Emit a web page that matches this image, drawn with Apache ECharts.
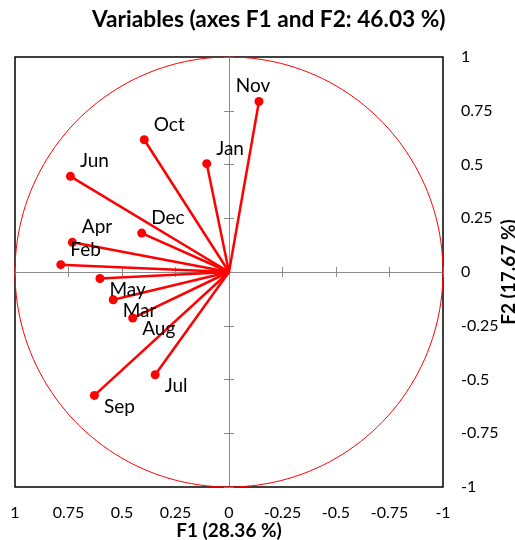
<!DOCTYPE html>
<html>
<head>
<meta charset="utf-8">
<script src="https://cdn.jsdelivr.net/npm/echarts@6/dist/echarts.min.js"></script>
<style>html,body{margin:0;padding:0;background:#fff}#c{width:515px;height:540px}</style>
</head>
<body>
<div id="c"></div>
<script>
const titleText = 'Variables (axes F1 and F2: 46.03 %)';
const xName = 'F1 (28.36 %)';
const yName = 'F2 (17.67 %)';
const categories = ['Jan','Feb','Mar','Apr','May','Jun','Jul','Aug','Sep','Oct','Nov','Dec'];
const f1 = [0.104, 0.786, 0.541, 0.732, 0.603, 0.741, 0.345, 0.450, 0.629, 0.396, -0.140, 0.408];
const f2 = [0.504, 0.034, -0.129, 0.138, -0.030, 0.445, -0.478, -0.214, -0.574, 0.615, 0.793, 0.181];
const axisMin = -1, axisMax = 1, axisStep = 0.25;

const FONT = 'Lato';
const chart = echarts.init(document.getElementById('c'), null, {renderer: 'canvas'});

// correlation circle (unit circle, geometric reference)
const circle = [];
for (let a = 0; a <= 360; a += 2) {
  const r = a * Math.PI / 180;
  circle.push([Math.cos(r), Math.sin(r)]);
}

const vectors = categories.map((c, i) => ({coords: [[0, 0], [f1[i], f2[i]]]}));
const points = categories.map((c, i) => {
  const up = f2[i] >= 0;
  let label = {position: 'right', offset: up ? [0, -15] : [0, 11]};
  if (c === 'Nov') label = {position: 'top', offset: [-6, 3]};
  return {name: c, value: [f1[i], f2[i]], label: label};
});

const baseX = {type: 'value', min: axisMin, max: axisMax, interval: axisStep, inverse: true, gridIndex: 0};
const baseY = {type: 'value', min: axisMin, max: axisMax, interval: axisStep, gridIndex: 0};
const crossAxisLine = {show: true, onZero: true, onZeroAxisIndex: 0, lineStyle: {color: '#8c8c8c', width: 1}};
const crossTick = (inside) => ({show: true, inside: inside, length: 5, lineStyle: {color: '#8c8c8c', width: 1}});

const option = {
  animation: false,
  backgroundColor: '#fff',
  title: {
    text: titleText,
    left: 92,
    top: 8,
    padding: 0,
    textStyle: {fontFamily: FONT, fontWeight: 'bold', fontSize: 22.7, color: '#000'}
  },
  grid: {left: 15, top: 57, width: 428, height: 430, outerBoundsMode: 'none', containLabel: false,
    show: true, borderColor: '#000', borderWidth: 1.5, backgroundColor: 'transparent'},
  xAxis: [
    Object.assign({}, baseX, {
      position: 'bottom',
      name: xName, nameLocation: 'middle', nameGap: 34, nameMoveOverlap: false,
      nameTextStyle: {fontFamily: FONT, fontWeight: 'bold', fontSize: 19, color: '#000'},
      axisLine: {show: false, onZero: false},
      axisTick: {show: false},
      splitLine: {show: false},
      axisLabel: {margin: 18, fontFamily: FONT, fontSize: 16, color: '#000', formatter: v => String(v)}
    }),
    Object.assign({}, baseX, {position: 'bottom', axisLine: crossAxisLine, axisTick: crossTick(false), axisLabel: {show: false}, splitLine: {show: false}}),
    Object.assign({}, baseX, {position: 'bottom', axisLine: crossAxisLine, axisTick: crossTick(true), axisLabel: {show: false}, splitLine: {show: false}})
  ],
  yAxis: [
    Object.assign({}, baseY, {
      position: 'right',
      name: yName, nameLocation: 'middle', nameGap: 56, nameRotate: 90, nameMoveOverlap: false,
      nameTextStyle: {fontFamily: FONT, fontWeight: 'bold', fontSize: 19, color: '#000'},
      axisLine: {show: false, onZero: false},
      axisTick: {show: false},
      splitLine: {show: false},
      axisLabel: {margin: 18, fontFamily: FONT, fontSize: 16, color: '#000', formatter: v => String(v)}
    }),
    Object.assign({}, baseY, {position: 'left', axisLine: crossAxisLine, axisTick: crossTick(false), axisLabel: {show: false}, splitLine: {show: false}}),
    Object.assign({}, baseY, {position: 'left', axisLine: crossAxisLine, axisTick: crossTick(true), axisLabel: {show: false}, splitLine: {show: false}})
  ],
  series: [
    {
      type: 'line', xAxisIndex: 0, yAxisIndex: 0, data: circle, showSymbol: false, silent: true,
      lineStyle: {color: '#ff0000', width: 1}, z: 1
    },
    {
      type: 'lines', coordinateSystem: 'cartesian2d', xAxisIndex: 0, yAxisIndex: 0, data: vectors, silent: true,
      lineStyle: {color: '#ff0000', width: 2.5, opacity: 1}, z: 2
    },
    {
      type: 'scatter', xAxisIndex: 0, yAxisIndex: 0, data: points, symbol: 'circle', symbolSize: 9,
      itemStyle: {color: '#ff0000', opacity: 1}, z: 3,
      label: {show: true, formatter: p => p.name, fontFamily: FONT, fontSize: 19, color: '#000'}
    }
  ]
};
chart.setOption(option);
</script>
</body>
</html>
